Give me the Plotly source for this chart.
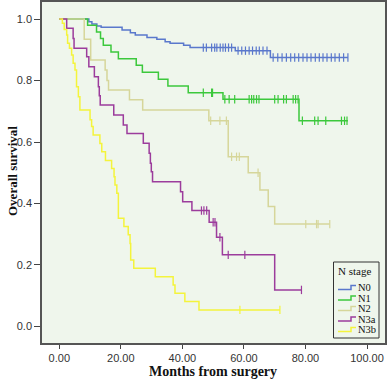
import plotly.graph_objects as go

# ---- data (months, survival) ----
groups = ["N0", "N1", "N2", "N3a", "N3b"]
colors = {"N0": "#5a78cc", "N1": "#3cc83c", "N2": "#d6d69a", "N3a": "#9c3c9c", "N3b": "#f4f43c"}

n0_t = [0, 9.6, 10.6, 12.2, 13.6, 20.4, 23.1, 24.7, 28.5, 31.7, 34.4, 36.0, 40.4, 42.5, 57.2, 68.6, 93.8]
n0_s = [1.0, 0.991, 0.984, 0.977, 0.973, 0.964, 0.955, 0.948, 0.940, 0.934, 0.926, 0.921, 0.915, 0.907, 0.897, 0.875, 0.875]
n0_c = [46.8, 47.8, 49.5, 50.5, 51.2, 52.3, 53.2, 54.0, 55.0, 56.0, 58.1, 59.3, 60.5, 61.7, 62.8, 64.0, 65.0, 66.2, 67.5,
        69.5, 71.0, 72.4, 73.8, 75.2, 76.5, 77.8, 79.2, 80.5, 81.8, 83.2, 84.5, 85.7, 87.0, 88.4, 89.6, 91.0, 92.4, 93.8]

n1_t = [0, 9.2, 12.1, 13.4, 14.3, 16.8, 19.2, 25.0, 27.0, 32.2, 35.3, 41.9, 53.2, 77.9, 93.8]
n1_s = [1.0, 0.980, 0.958, 0.937, 0.915, 0.893, 0.871, 0.850, 0.827, 0.804, 0.782, 0.760, 0.739, 0.669, 0.669]
n1_c = [46.8, 49.5, 49.8, 53.8, 55.2, 57.0, 61.7, 62.5, 63.2, 64.1, 64.9, 70.0, 71.1, 72.9, 73.8, 76.0, 76.8, 77.6,
        79.0, 83.0, 84.1, 86.6, 91.7, 92.7, 93.5]

n2_t = [0, 8.1, 10.2, 14.9, 15.5, 16.0, 22.8, 27.1, 48.6, 54.9, 61.4, 65.2, 67.9, 70.0, 87.9]
n2_s = [1.0, 0.934, 0.867, 0.834, 0.800, 0.769, 0.737, 0.704, 0.669, 0.552, 0.500, 0.444, 0.390, 0.333, 0.333]
n2_c = [49.2, 52.2, 54.3, 56.0, 57.6, 58.5, 64.6, 80.1, 83.6, 84.1, 87.9]

n3a_t = [0, 2.4, 4.5, 4.8, 8.9, 9.6, 11.4, 12.7, 13.0, 13.3, 17.7, 20.8, 22.0, 27.3, 29.2, 29.6, 29.9, 30.3,
         39.4, 40.1, 43.1, 48.7, 51.1, 53.0, 70.0, 78.7]
n3a_s = [1.0, 0.970, 0.937, 0.905, 0.877, 0.845, 0.812, 0.780, 0.750, 0.720, 0.688, 0.655, 0.628, 0.596, 0.563,
         0.531, 0.503, 0.471, 0.438, 0.406, 0.377, 0.339, 0.290, 0.233, 0.119, 0.119]
n3a_c = [46.2, 47.0, 47.9, 50.0, 50.6, 52.2, 54.9, 60.3, 78.7]

n3b_t = [0, 1.0, 1.6, 2.4, 2.7, 3.3, 4.0, 4.5, 5.1, 5.6, 6.2, 6.7, 10.0, 10.5, 11.0, 13.2, 13.8, 15.0, 17.0,
         17.8, 18.1, 18.7, 19.2, 21.0, 22.4, 23.0, 23.2, 24.2, 31.2, 37.0, 37.6, 40.8, 45.4, 71.7]
n3b_s = [1.0, 0.986, 0.966, 0.948, 0.921, 0.905, 0.883, 0.856, 0.834, 0.780, 0.747, 0.704, 0.672, 0.650, 0.623,
         0.595, 0.568, 0.540, 0.514, 0.487, 0.460, 0.433, 0.352, 0.325, 0.298, 0.270, 0.216, 0.189, 0.162,
         0.135, 0.108, 0.081, 0.054, 0.054]
n3b_c = [58.7, 71.7]

series = {
    "N0": (n0_t, n0_s, n0_c),
    "N1": (n1_t, n1_s, n1_c),
    "N2": (n2_t, n2_s, n2_c),
    "N3a": (n3a_t, n3a_s, n3a_c),
    "N3b": (n3b_t, n3b_s, n3b_c),
}

x_ticks = [0, 20, 40, 60, 80, 100]
x_labels = ["0.00", "20.00", "40.00", "60.00", "80.00", "100.00"]
y_ticks = [0.0, 0.2, 0.4, 0.6, 0.8, 1.0]
y_labels = ["0.0", "0.2", "0.4", "0.6", "0.8", "1.0"]
legend_title = "N stage"

W, H = 387, 381
ML, MR, MT, MB = 42, 2, 2, 38
PW, PH = W - ML - MR, H - MT - MB


def step_value(t, s, x):
    v = s[0]
    for ti, si in zip(t, s):
        if ti <= x:
            v = si
    return v


def px_x(px):  # pixel -> paper x
    return (px - ML) / PW


def px_y(py):  # pixel -> paper y
    return (H - MB - py) / PH


fig = go.Figure()
for g in groups:
    t, s, c = series[g]
    fig.add_trace(go.Scatter(x=t, y=s, mode="lines", line=dict(color=colors[g], width=1.5, shape="hv"),
                             name=g, showlegend=False))
    fig.add_trace(go.Scatter(x=c, y=[step_value(t, s, ci) for ci in c], mode="markers",
                             marker=dict(symbol="line-ns-open", size=6, color=colors[g],
                                         line=dict(color=colors[g], width=1.2)),
                             showlegend=False, hoverinfo="skip"))

# ---- manual legend (SPSS style, step-shaped keys) ----
shapes = [dict(type="rect", xref="paper", yref="paper",
               x0=px_x(333.5), x1=px_x(379), y0=px_y(338), y1=px_y(262),
               line=dict(color="#333", width=1), fillcolor="#eff6ec", layer="above")]
annotations = [dict(text=legend_title, xref="paper", yref="paper", x=px_x(336), y=px_y(271),
                    xanchor="left", yanchor="middle", showarrow=False,
                    font=dict(family="Liberation Serif", size=11, color="#111"))]
for i, g in enumerate(groups):
    yc = 287.5 + i * 10.5
    x0, xm, x1 = px_x(338), px_x(351), px_x(356)
    ylo, yhi = px_y(yc + 2), px_y(yc - 2)
    shapes.append(dict(type="path", xref="paper", yref="paper",
                       path=f"M {x0},{ylo} L {xm},{ylo} L {xm},{yhi} L {x1},{yhi}",
                       line=dict(color=colors[g], width=1.5), layer="above"))
    annotations.append(dict(text=g, xref="paper", yref="paper", x=px_x(356), y=px_y(yc),
                            xanchor="left", yanchor="middle", showarrow=False,
                            font=dict(family="Liberation Serif", size=10.5, color="#111")))

annotations += [
    dict(text="<b>Months from surgery</b>", xref="paper", yref="paper", x=px_x(213), y=px_y(371.5),
         xanchor="center", yanchor="middle", showarrow=False,
         font=dict(family="Liberation Serif", size=14, color="#111")),
    dict(text="<b>Overall survival</b>", xref="paper", yref="paper", x=px_x(12), y=px_y(171),
         xanchor="center", yanchor="middle", textangle=-90, showarrow=False,
         font=dict(family="Liberation Serif", size=13, color="#111")),
]

fig.update_layout(
    width=W, height=H,
    margin=dict(l=ML, r=MR, t=MT, b=MB, autoexpand=False),
    paper_bgcolor="white",
    plot_bgcolor="#eff6ec",
    showlegend=False,
    xaxis=dict(
        range=[-5.62, 105.85], tickvals=x_ticks, ticktext=x_labels, automargin=False,
        showgrid=False, zeroline=False, ticks="outside", ticklen=4, tickcolor="#444",
        showline=True, linecolor="#555", linewidth=1.5, mirror=True,
        tickfont=dict(family="Liberation Sans", size=11, color="#333"),
    ),
    yaxis=dict(
        range=[-0.0537, 1.0553], tickvals=y_ticks, ticktext=y_labels, automargin=False,
        showgrid=False, zeroline=False, ticks="outside", ticklen=6, tickcolor="#444",
        showline=True, linecolor="#555", linewidth=1.5, mirror=True,
        tickfont=dict(family="Liberation Sans", size=11, color="#333"),
    ),
    shapes=shapes,
    annotations=annotations,
)

fig.write_html("out.html", config={"displayModeBar": False},
               post_script="document.body.style.margin='0';document.body.style.padding='0';")
